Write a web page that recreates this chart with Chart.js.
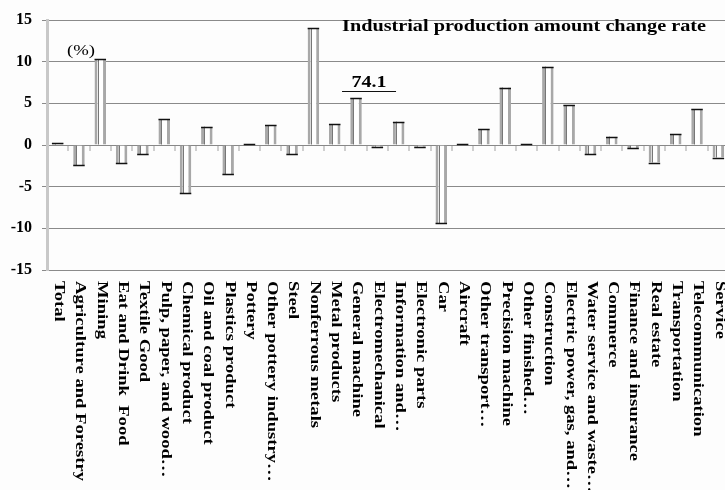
<!DOCTYPE html>
<html>
<head>
<meta charset="utf-8">
<script src="https://cdn.jsdelivr.net/npm/chart.js@4"></script>
<style>
  html, body { margin: 0; padding: 0; background: #fdfdfd; overflow: hidden; }
  #wrap { position: absolute; left: 0; top: 0; width: 729px; height: 490px; }
</style>
</head>
<body>
<div id="wrap"><canvas id="c" width="729" height="490"></canvas></div>
<script>
const categories = [
  "Total", "Agriculture and Forestry", "Mining", "Eat and Drink  Food", "Textile Good",
  "Pulp, paper, and wood…", "Chemical product", "Oil and coal product", "Plastics product",
  "Pottery", "Other pottery industry…", "Steel", "Nonferrous metals", "Metal products",
  "General machine", "Electromechanical", "Information and…", "Electronic parts", "Car",
  "Aircraft", "Other transport…", "Precision machine", "Other finished…", "Construction",
  "Electric power, gas, and…", "Water service and waste…", "Commerce", "Finance and insurance",
  "Real estate", "Transportation", "Telecommunication", "Service"
];
const changeRate = [
  0.2, -2.4, 10.3, -2.2, -1.1,
  3.1, -5.8, 2.2, -3.5,
  0.1, 2.4, -1.1, 14.0, 2.5,
  5.6, -0.2, 2.8, -0.2, -9.4,
  0.1, 1.9, 6.9, 0.1, 9.4,
  4.8, -1.1, 1.0, -0.4,
  -2.1, 1.3, 4.3, -1.5
];
const yTicks = [-15, -10, -5, 0, 5, 10, 15];
const titleText = "Industrial production amount change rate";
const unitText = "(%)";
const noteText = "74.1";
const noteCategory = "General machine";

const serif = '"Liberation Serif", "Times New Roman", serif';

const decorPlugin = {
  id: 'decor',
  afterDatasetsDraw(chart) {
    const ctx = chart.ctx;
    const meta = chart.getDatasetMeta(0);
    ctx.save();
    meta.data.forEach(el => {
      const half = el.width / 2;
      // thin darker inner edge lines on the sides
      const top = Math.min(el.y, el.base), bot = Math.max(el.y, el.base);
      ctx.strokeStyle = '#777';
      ctx.lineWidth = 1;
      ctx.beginPath();
      ctx.moveTo(Math.round(el.x - half + 3) + 0.5, top);
      ctx.lineTo(Math.round(el.x - half + 3) + 0.5, bot);
      ctx.stroke();
      // black end cap
      ctx.strokeStyle = '#111';
      ctx.lineWidth = 1.5;
      ctx.beginPath();
      ctx.moveTo(el.x - half, Math.round(el.y) + 0.5);
      ctx.lineTo(el.x + half, Math.round(el.y) + 0.5);
      ctx.stroke();
    });
    ctx.restore();
  },
  afterDraw(chart) {
    const ctx = chart.ctx;
    const xs = chart.scales.x, ys = chart.scales.y;
    ctx.save();
    ctx.fillStyle = '#000';
    ctx.font = 'bold 14px ' + serif;
    const ref = ctx.measureText(categories[1]).width;
    const s = 200 / ref;
    categories.forEach((c, i) => {
      const px = xs.getPixelForValue(i);
      ctx.save();
      ctx.translate(px + 1, ys.bottom + 11);
      ctx.rotate(Math.PI / 2);
      ctx.scale(s, 1);
      ctx.textAlign = 'left';
      ctx.textBaseline = 'middle';
      ctx.fillText(c, 0, 0);
      ctx.restore();
    });
    ctx.font = 'bold 16px ' + serif;
    let w = ctx.measureText(titleText).width;
    ctx.save();
    ctx.translate(342, 31);
    ctx.scale(364 / w, 1);
    ctx.textAlign = 'left';
    ctx.textBaseline = 'alphabetic';
    ctx.fillText(titleText, 0, 0);
    ctx.restore();
    ctx.font = '14px ' + serif;
    w = ctx.measureText(unitText).width;
    ctx.save();
    ctx.translate(67, 55);
    ctx.scale(28 / w, 1);
    ctx.fillText(unitText, 0, 0);
    ctx.restore();
    const idx = categories.indexOf(noteCategory);
    const nx = xs.getPixelForValue(idx) + 13;
    ctx.font = 'bold 17px ' + serif;
    w = ctx.measureText(noteText).width;
    ctx.save();
    ctx.translate(nx, 87);
    ctx.scale(35 / w, 1);
    ctx.textAlign = 'center';
    ctx.fillText(noteText, 0, 0);
    ctx.restore();
    ctx.strokeStyle = '#111';
    ctx.lineWidth = 1;
    ctx.beginPath();
    ctx.moveTo(nx - 27, 91.5);
    ctx.lineTo(nx + 27, 91.5);
    ctx.stroke();
    ctx.restore();
  }
};

new Chart(document.getElementById('c'), {
  type: 'bar',
  data: {
    labels: categories,
    datasets: [{
      data: changeRate,
      backgroundColor: '#ffffff',
      borderColor: '#a8a8a8',
      borderWidth: { left: 3, right: 3, top: 0, bottom: 0 },
      borderSkipped: false,
      barPercentage: 0.54,
      categoryPercentage: 1.0
    }]
  },
  options: {
    responsive: false,
    animation: false,
    events: [],
    layout: { padding: { top: 20, bottom: 220, left: 0, right: 0 } },
    plugins: { legend: { display: false }, tooltip: { enabled: false }, title: { display: false } },
    scales: {
      x: {
        type: 'category',
        position: { y: 0 },
        offset: true,
        grid: { display: true, drawOnChartArea: false, drawTicks: true, tickLength: 5, color: '#cfcfcf', lineWidth: 2, offset: true },
        border: { display: true, color: '#888', width: 1 },
        ticks: { display: false }
      },
      y: {
        min: -15, max: 15,
        afterBuildTicks(scale) { scale.ticks = yTicks.map(v => ({ value: v })); },
        afterFit(scale) { scale.width = 47; },
        grid: { color: '#8a8a8a', lineWidth: 1, drawTicks: true, tickLength: 5 },
        border: { display: true, color: '#c8c8c8', width: 3 },
        ticks: {
          color: '#000',
          padding: 10,
          font: { family: serif, weight: 'bold', size: 16 }
        }
      }
    }
  },
  plugins: [decorPlugin]
});
</script>
</body>
</html>
